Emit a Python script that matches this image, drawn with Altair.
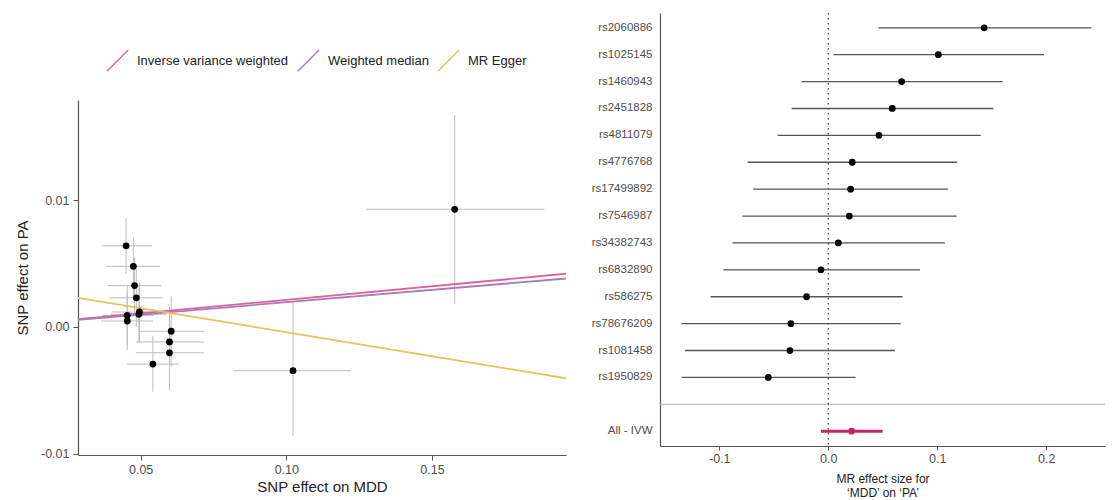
import altair as alt
import pandas as pd

# ---------------- data: scatter (SNP effects) ----------------
snp = ["rs2060886", "rs1025145", "rs1460943", "rs4811079", "rs4776768",
       "rs17499892", "rs7546987", "rs34382743", "rs6832890", "rs586275",
       "rs1081458", "rs1950829", "rs78676209", "rs2451828"]
bx = [0.0450, 0.0475, 0.0479, 0.0485, 0.0496, 0.0494, 0.0454, 0.0454,
      0.0605, 0.0599, 0.0599, 0.0542, 0.1023, 0.1578]
bx_lo = [0.0365, 0.0381, 0.0387, 0.0393, 0.0401, 0.0398, 0.0368, 0.0364,
         0.0496, 0.0485, 0.0483, 0.0454, 0.0819, 0.1276]
bx_hi = [0.0539, 0.0567, 0.0570, 0.0576, 0.0592, 0.0590, 0.0545, 0.0542,
         0.0717, 0.0717, 0.0717, 0.0630, 0.1221, 0.1886]
by = [0.0064, 0.00478, 0.00326, 0.0023, 0.00118, 0.00100, 0.00091, 0.00047,
      -0.00034, -0.00118, -0.00204, -0.00293, -0.00345, 0.00928]
by_lo = [0.0042, 0.0025, 0.0010, 0.0000, -0.0012, -0.0013, -0.0015, -0.0018,
         -0.0031, -0.0040, -0.0050, -0.0051, -0.0086, 0.0018]
by_hi = [0.0086, 0.0071, 0.0055, 0.0046, 0.0035, 0.0033, 0.0033, 0.0028,
         0.0024, 0.0016, 0.0010, -0.0007, 0.0019, 0.0167]

# ---------------- data: MR methods (regression lines) ----------------
methods = ["Inverse variance weighted", "Weighted median", "MR Egger"]
slopes = [0.0214, 0.0195, -0.0379]
intercepts = [0.0, 0.0, 0.00338]
method_colors = ["#db6497", "#aa77c0", "#e5c25a"]

# ---------------- data: forest plot ----------------
forest_snp = ["rs2060886", "rs1025145", "rs1460943", "rs2451828", "rs4811079",
              "rs4776768", "rs17499892", "rs7546987", "rs34382743", "rs6832890",
              "rs586275", "rs78676209", "rs1081458", "rs1950829"]
forest_b = [0.143, 0.101, 0.0673, 0.0587, 0.0465, 0.022, 0.0205, 0.0193,
            0.0092, -0.0067, -0.0199, -0.0343, -0.0352, -0.055]
forest_lo = [0.046, 0.0046, -0.0245, -0.0336, -0.0465, -0.074, -0.0688, -0.0789,
             -0.088, -0.0963, -0.108, -0.1346, -0.1315, -0.1346]
forest_hi = [0.2416, 0.198, 0.160, 0.1514, 0.1398, 0.1183, 0.110, 0.1177,
             0.107, 0.0841, 0.0682, 0.0664, 0.0612, 0.025]
ivw_label = ["All - IVW"]
ivw_b = [0.0214]
ivw_lo = [-0.0067]
ivw_hi = [0.0498]

FONT = "Liberation Sans"
LABEL_C = "#4d4d4d"
AXIS_C = "#555555"

# ---------------- left panel ----------------
xdom = [0.0285, 0.196]
ydom = [-0.0101, 0.0179]

sc_df = pd.DataFrame({"snp": snp, "bx": bx, "bx_lo": bx_lo, "bx_hi": bx_hi,
                      "by": by, "by_lo": by_lo, "by_hi": by_hi})
line_rows = []
for m, s, c in zip(methods, slopes, intercepts):
    for xv in xdom:
        line_rows.append({"method": m, "x": xv, "y": c + s * xv})
line_df = pd.DataFrame(line_rows)

xs = alt.Scale(domain=xdom, nice=False, zero=False)
ys = alt.Scale(domain=ydom, nice=False, zero=False)
cscale = alt.Scale(domain=methods, range=method_colors)

x_axis = alt.Axis(values=[0.05, 0.10, 0.15], format=".2f", title="SNP effect on MDD",
                  grid=False, tickSize=5, tickColor=AXIS_C, domainColor=AXIS_C,
                  domainWidth=1.2, labelFontSize=12.5, labelColor=LABEL_C,
                  labelPadding=3, titleFontSize=15, titleFontWeight="normal",
                  titleColor="#222222", titlePadding=4, labelFont=FONT, titleFont=FONT)
y_axis = alt.Axis(values=[-0.01, 0.0, 0.01], format=".2f", title="SNP effect on PA",
                  grid=False, tickSize=5, tickColor=AXIS_C, domainColor=AXIS_C,
                  domainWidth=1.2, labelFontSize=12.5, labelColor=LABEL_C,
                  labelPadding=4, titleFontSize=15, titleFontWeight="normal",
                  titleColor="#222222", titlePadding=10, labelFont=FONT, titleFont=FONT,
                  labelExpr="replace(format(datum.value, '.2f'), '\u2212', '-')")

base = alt.Chart(sc_df)
h_err = base.mark_rule(color="#bdbdbd", strokeWidth=1).encode(
    x=alt.X("bx_lo:Q", scale=xs, axis=x_axis), x2="bx_hi:Q",
    y=alt.Y("by:Q", scale=ys, axis=y_axis))
v_err = base.mark_rule(color="#bdbdbd", strokeWidth=1).encode(
    x=alt.X("bx:Q", scale=xs), y=alt.Y("by_lo:Q", scale=ys), y2="by_hi:Q")
lines = alt.Chart(line_df).mark_line(strokeWidth=1.8, clip=True).encode(
    x=alt.X("x:Q", scale=xs), y=alt.Y("y:Q", scale=ys),
    color=alt.Color("method:N", scale=cscale, sort=methods, legend=None))
pts = base.mark_circle(size=46, color="black", opacity=1).encode(
    x=alt.X("bx:Q", scale=xs), y=alt.Y("by:Q", scale=ys))

scatter = alt.layer(h_err, v_err, lines, pts).properties(width=488, height=355)

# legend strip above the scatter (no marks drawn, legend only)
legend_strip = alt.Chart(line_df).transform_filter("false").mark_line(strokeWidth=1.8).encode(
    x=alt.X("x:Q", axis=None), y=alt.Y("y:Q", axis=None),
    color=alt.Color("method:N", scale=cscale, sort=methods,
                    legend=alt.Legend(orient="none", legendX=28, legendY=36,
                                      direction="horizontal", title=None,
                                      symbolType="M-1,1L1,-1", symbolSize=450,
                                      symbolStrokeWidth=1.4, labelFontSize=13,
                                      labelFont=FONT, labelColor="#222222",
                                      labelOffset=8, columnPadding=6,
                                      labelLimit=300))
).properties(width=488, height=87)

left = alt.vconcat(legend_strip, scatter, spacing=0).resolve_scale(
    color="independent").resolve_legend(color="independent")

# ---------------- right panel ----------------
row_order = forest_snp + [" "] + ivw_label
f_df = pd.DataFrame({"row": forest_snp, "b": forest_b, "lo": forest_lo, "hi": forest_hi})
i_df = pd.DataFrame({"row": ivw_label, "b": ivw_b, "lo": ivw_lo, "hi": ivw_hi})
sep_df = pd.DataFrame({"row": [" "]})
zero_df = pd.DataFrame({"v": [0.0]})

fx = alt.Scale(domain=[-0.1544, 0.2539], nice=False, zero=False)
fy = alt.Scale(domain=row_order, padding=0.1)

fx_axis = alt.Axis(values=[-0.1, 0.0, 0.1, 0.2], format=".1f",
                   title=["MR effect size for", "\u2018MDD\u2019 on \u2018PA\u2019"],
                   grid=False, tickSize=4, tickColor=AXIS_C, domainColor=AXIS_C,
                   domainWidth=1.2, labelFontSize=12.5, labelColor=LABEL_C,
                   labelPadding=2, titleFontSize=12, titleFontWeight="normal",
                   titleColor="#222222", titlePadding=9, titleLineHeight=14,
                   labelFont=FONT, titleFont=FONT,
                   labelExpr="replace(format(datum.value, '.1f'), '\u2212', '-')")
fy_axis = alt.Axis(title=None, ticks=False, grid=False, domainColor=AXIS_C,
                   domainWidth=1.2, labelFontSize=11.5, labelColor=LABEL_C,
                   labelPadding=8, labelFont=FONT)

sep = alt.Chart(sep_df).mark_rule(color="#b5b5b5", strokeWidth=1).encode(
    y=alt.Y("row:N", scale=fy, sort=row_order, axis=fy_axis))
zero = alt.Chart(zero_df).mark_rule(color="#444444", strokeWidth=1.3,
                                    strokeDash=[1.5, 3.5]).encode(
    x=alt.X("v:Q", scale=fx, axis=fx_axis))
f_err = alt.Chart(f_df).mark_rule(color="#555555", strokeWidth=1.3).encode(
    x=alt.X("lo:Q", scale=fx), x2="hi:Q",
    y=alt.Y("row:N", scale=fy, sort=row_order))
f_pts = alt.Chart(f_df).mark_circle(size=46, color="black", opacity=1).encode(
    x=alt.X("b:Q", scale=fx), y=alt.Y("row:N", scale=fy, sort=row_order))
i_err = alt.Chart(i_df).mark_rule(color="#c42462", strokeWidth=3).encode(
    x=alt.X("lo:Q", scale=fx), x2="hi:Q",
    y=alt.Y("row:N", scale=fy, sort=row_order))
i_pts = alt.Chart(i_df).mark_circle(size=46, color="#c42462", opacity=1).encode(
    x=alt.X("b:Q", scale=fx), y=alt.Y("row:N", scale=fy, sort=row_order))

right = alt.layer(sep, zero, f_err, f_pts, i_err, i_pts).properties(width=445, height=433)

chart = alt.hconcat(left, right, spacing=25).properties(
    padding={"left": 7, "top": 4, "right": 0, "bottom": 0}
).configure(font=FONT).configure_view(strokeWidth=0, stroke=None)

chart.save("out.html", embed_options={"renderer": "svg", "actions": False})
